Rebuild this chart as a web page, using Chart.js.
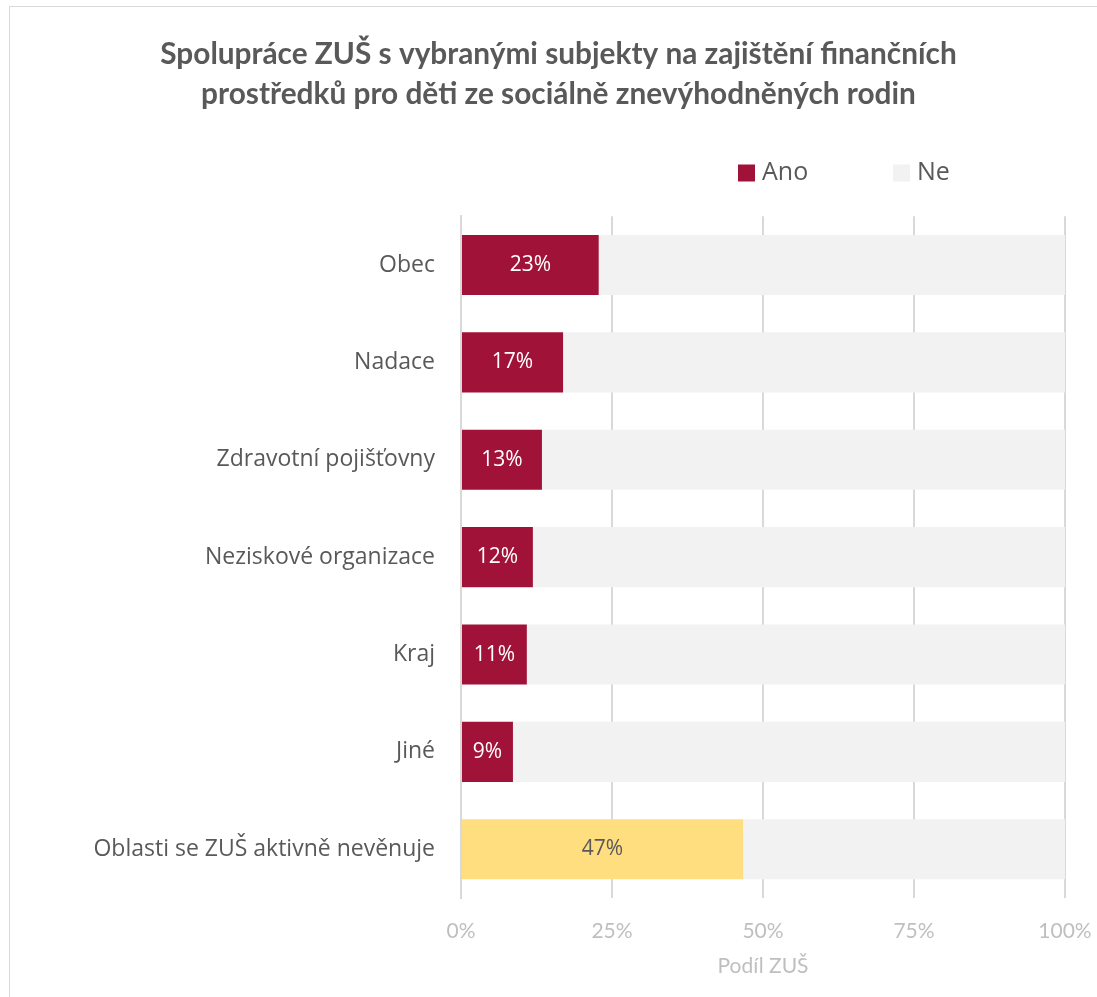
<!DOCTYPE html>
<html lang="cs">
<head>
<meta charset="utf-8">
<title>Spolupráce ZUŠ</title>
<script src="https://cdn.jsdelivr.net/npm/chart.js@4.4.1/dist/chart.umd.min.js"></script>
<style>
  html, body { margin: 0; padding: 0; background: #fff; overflow: hidden; }
  .frame {
    position: absolute; left: 9px; top: 6px;
    width: 1200px; height: 1100px;
    border: 1px solid #d9d9d9;
  }
  .frame canvas { position: absolute; left: 0; top: 0; }
</style>
</head>
<body>
<div class="frame">
  <canvas id="chart" width="1097" height="990"></canvas>
</div>
<script>
// Spolupráce ZUŠ — podíl ZUŠ podle subjektu

const categories = [
  'Obec',
  'Nadace',
  'Zdravotní pojišťovny',
  'Neziskové organizace',
  'Kraj',
  'Jiné',
  'Oblasti se ZUŠ aktivně nevěnuje',
];
const anoValues = [22.8, 16.9, 13.4, 11.9, 10.9, 8.6, 46.7];
const neValues = anoValues.map((v) => 100 - v);
const xTicks = [0, 25, 50, 75, 100];
const seriesNames = ['Ano', 'Ne'];

const RED = '#A11238';
const YELLOW = '#FFDE80';
const GREY = '#F2F2F2';
const TEXT = '#595959';
const LIGHT = '#BFBFBF';

// barvy pro Ano: posledni kategorie je zluta
const anoColors = categories.map((c, i) => (i === categories.length - 1 ? YELLOW : RED));

// popisky hodnot uprostred cervenych/zlutych segmentu
const valueLabelsPlugin = {
  id: 'valueLabels',
  afterDatasetsDraw(chart) {
    const { ctx } = chart;
    const meta = chart.getDatasetMeta(0);
    ctx.save();
    ctx.font = '21px "Open Sans"';
    ctx.textAlign = 'center';
    ctx.textBaseline = 'middle';
    meta.data.forEach((bar, i) => {
      const cx = (bar.x + bar.base) / 2;
      ctx.fillStyle = anoColors[i] === YELLOW ? TEXT : '#ffffff';
      ctx.fillText(Math.round(anoValues[i]) + '%', cx, bar.y);
    });
    ctx.restore();
  },
};

// legenda nad grafem (vpravo od stredu)
const legendPlugin = {
  id: 'customLegend',
  afterDraw(chart) {
    const { ctx } = chart;
    const items = [
      { label: seriesNames[0], color: RED, x: 728 },
      { label: seriesNames[1], color: GREY, x: 883 },
    ];
    const y = 166;
    ctx.save();
    ctx.font = '25px "Open Sans"';
    ctx.textBaseline = 'middle';
    ctx.textAlign = 'left';
    for (const it of items) {
      ctx.fillStyle = it.color;
      ctx.fillRect(it.x, y - 8.5, 17, 17);
      ctx.fillStyle = TEXT;
      ctx.fillText(it.label, it.x + 24, y);
    }
    ctx.restore();
  },
};

const ctx = document.getElementById('chart').getContext('2d');
new Chart(ctx, {
  type: 'bar',
  plugins: [valueLabelsPlugin, legendPlugin],
  data: {
    labels: categories,
    datasets: [
      {
        label: seriesNames[0],
        data: anoValues,
        backgroundColor: anoColors,
        barPercentage: 0.617,
        categoryPercentage: 1,
      },
      {
        label: seriesNames[1],
        data: neValues,
        backgroundColor: GREY,
        barPercentage: 0.617,
        categoryPercentage: 1,
      },
    ],
  },
  options: {
    indexAxis: 'y',
    responsive: false,
    animation: false,
    layout: { padding: { left: 42, right: 42, top: 0, bottom: 0 } },
    plugins: {
      legend: { display: false },
      tooltip: { enabled: false },
      title: {
        display: true,
        text: [
          'Spolupráce ZUŠ s vybranými subjekty na zajištění finančních',
          'prostředků pro děti ze sociálně znevýhodněných rodin',
        ],
        color: TEXT,
        font: { family: 'Lato', size: 29.8, weight: 'bold', lineHeight: 1.33 },
        padding: { top: 28, bottom: 102 },
      },
    },
    scales: {
      x: {
        stacked: true,
        min: 0,
        max: 100,
        afterBuildTicks: (scale) => {
          scale.ticks = xTicks.map((v) => ({ value: v }));
        },
        afterFit: (scale) => {
          scale.height = 99;
          scale.paddingLeft = 0;
          scale.paddingRight = 0;
        },
        ticks: {
          color: LIGHT,
          font: { family: 'Lato', size: 21 },
          padding: 21,
          callback: (v) => v + '%',
        },
        grid: { color: '#D9D9D9', lineWidth: 2, drawTicks: false },
        border: { display: false },
        title: {
          display: true,
          text: 'Podíl ZUŠ',
          color: LIGHT,
          font: { family: 'Lato', size: 21 },
          padding: { top: 0, bottom: 18 },
        },
      },
      y: {
        stacked: true,
        afterFit: (scale) => { scale.width = 409; },
        ticks: {
          color: TEXT,
          font: { family: 'Open Sans', size: 23 },
          padding: 26,
        },
        grid: { display: false, drawTicks: false },
        border: { display: true, color: '#D9D9D9', width: 2 },
      },
    },
  },
});
</script>
</body>
</html>
